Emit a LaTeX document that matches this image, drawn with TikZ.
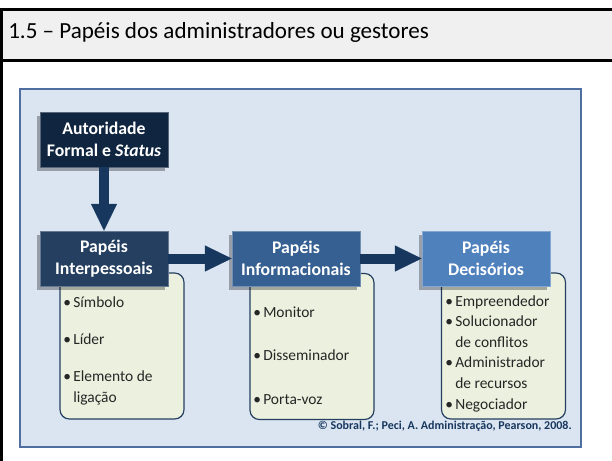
\documentclass[tikz,border=0pt]{standalone}
\usepackage{fontspec}
\setmainfont{Carlito}
\usetikzlibrary{arrows.meta,shadows,positioning}

\definecolor{headfill}{HTML}{F0F0F0}
\definecolor{panelfill}{HTML}{DBE5F1}
\definecolor{paneldraw}{HTML}{4F6FA0}
\definecolor{navyA}{HTML}{10253F}
\definecolor{navyB}{HTML}{243F60}
\definecolor{navyC}{HTML}{366092}
\definecolor{navyD}{HTML}{4F81BD}
\definecolor{arrowcol}{HTML}{17375E}
\definecolor{listfill}{HTML}{EBF1DE}

\newcommand{\bul}{\makebox[7.5pt][l]{\textbullet}}
\newcommand{\ind}{\hspace*{7.5pt}}

\tikzset{
  rolebox/.style={fill=#1, draw=#1!70!white, line width=0.6pt,
    minimum width=96pt, minimum height=41.25pt, inner sep=0pt,
    align=center, text=white, font=\bfseries\fontsize{13.3}{16.5}\selectfont,
    drop shadow={shadow xshift=-2.5pt, shadow yshift=-3pt, opacity=0.3, fill=black}},
  listbox/.style={draw=navyB, fill=listfill, line width=0.9pt, rounded corners=7pt,
    minimum width=93pt, minimum height=109.5pt},
  listtext/.style={anchor=base west, align=left, inner sep=0pt, text=black!85,
    font=\fontsize{11.6}{15.4}\selectfont},
  bigarrow/.style={draw=arrowcol, line width=7.5pt,
    -{Triangle[width=19.5pt,length=20pt,line width=0.1pt]}}
}

\begin{document}
\begin{tikzpicture}[x=0.75pt,y=0.75pt,yscale=-1,xscale=1]
\useasboundingbox (0,0) rectangle (612,461);

% Title band
\fill[headfill] (1.5,9.5) rectangle (614,60.5);
\draw[line width=2.2pt] (1.5,461) -- (1.5,9.5) -- (614,9.5);
\draw[line width=2.2pt] (1.5,60.5) -- (614,60.5);
\node[anchor=base west, inner sep=0pt, font=\fontsize{17.3}{20}\selectfont] (titulo) at (8,38) {1.5 – Papéis dos administradores ou gestores};

% Panel
\draw[paneldraw, line width=1.5pt, fill=panelfill] (20,89) rectangle (581,447);

% Lists
\node[listbox] (interlist) at (122,346) {};
\node[listbox] (infolist) at (312,346.5) {};
\node[listbox] (decilist) at (503.5,346) {};

% Role boxes
\node[rolebox=navyA] (autoridade) at (104,139.5) {Autoridade\\Formal e \textit{Status}};
\node[rolebox=navyB] (interpessoais) at (104,258.5) {Papéis\\Interpessoais};
\node[rolebox=navyC] (informacionais) at (296,258.5) {Papéis\\Informacionais};
\node[rolebox=navyD] (decisorios) at (486,258.5) {Papéis\\Decisórios};

% Arrows
\draw[bigarrow] (autoridade) -- (interpessoais);
\draw[bigarrow] (interpessoais) -- (informacionais);
\draw[bigarrow] (informacionais) -- (decisorios);

% List texts (base = last line)
\node[listtext] (intertext) at (63,402) {\bul Símbolo\\[12.5pt]\bul Líder\\[12.5pt]\bul Elemento de\\\ind ligação};
\node[listtext] (infotext) at (253,404) {\bul Monitor\\[16.9pt]\bul Disseminador\\[16.9pt]\bul Porta-voz};
\node[listtext] (decitext) at (445,409) {\bul Empreendedor\\\bul Solucionador\\\ind de conflitos\\\bul Administrador\\\ind de recursos\\\bul Negociador};

% Source
\node[anchor=base east, inner sep=0pt, text=arrowcol, font=\bfseries\fontsize{9}{11}\selectfont] (fonte) at (572,429) {© Sobral, F.; Peci, A. Administração, Pearson, 2008.};

\end{tikzpicture}
\end{document}
